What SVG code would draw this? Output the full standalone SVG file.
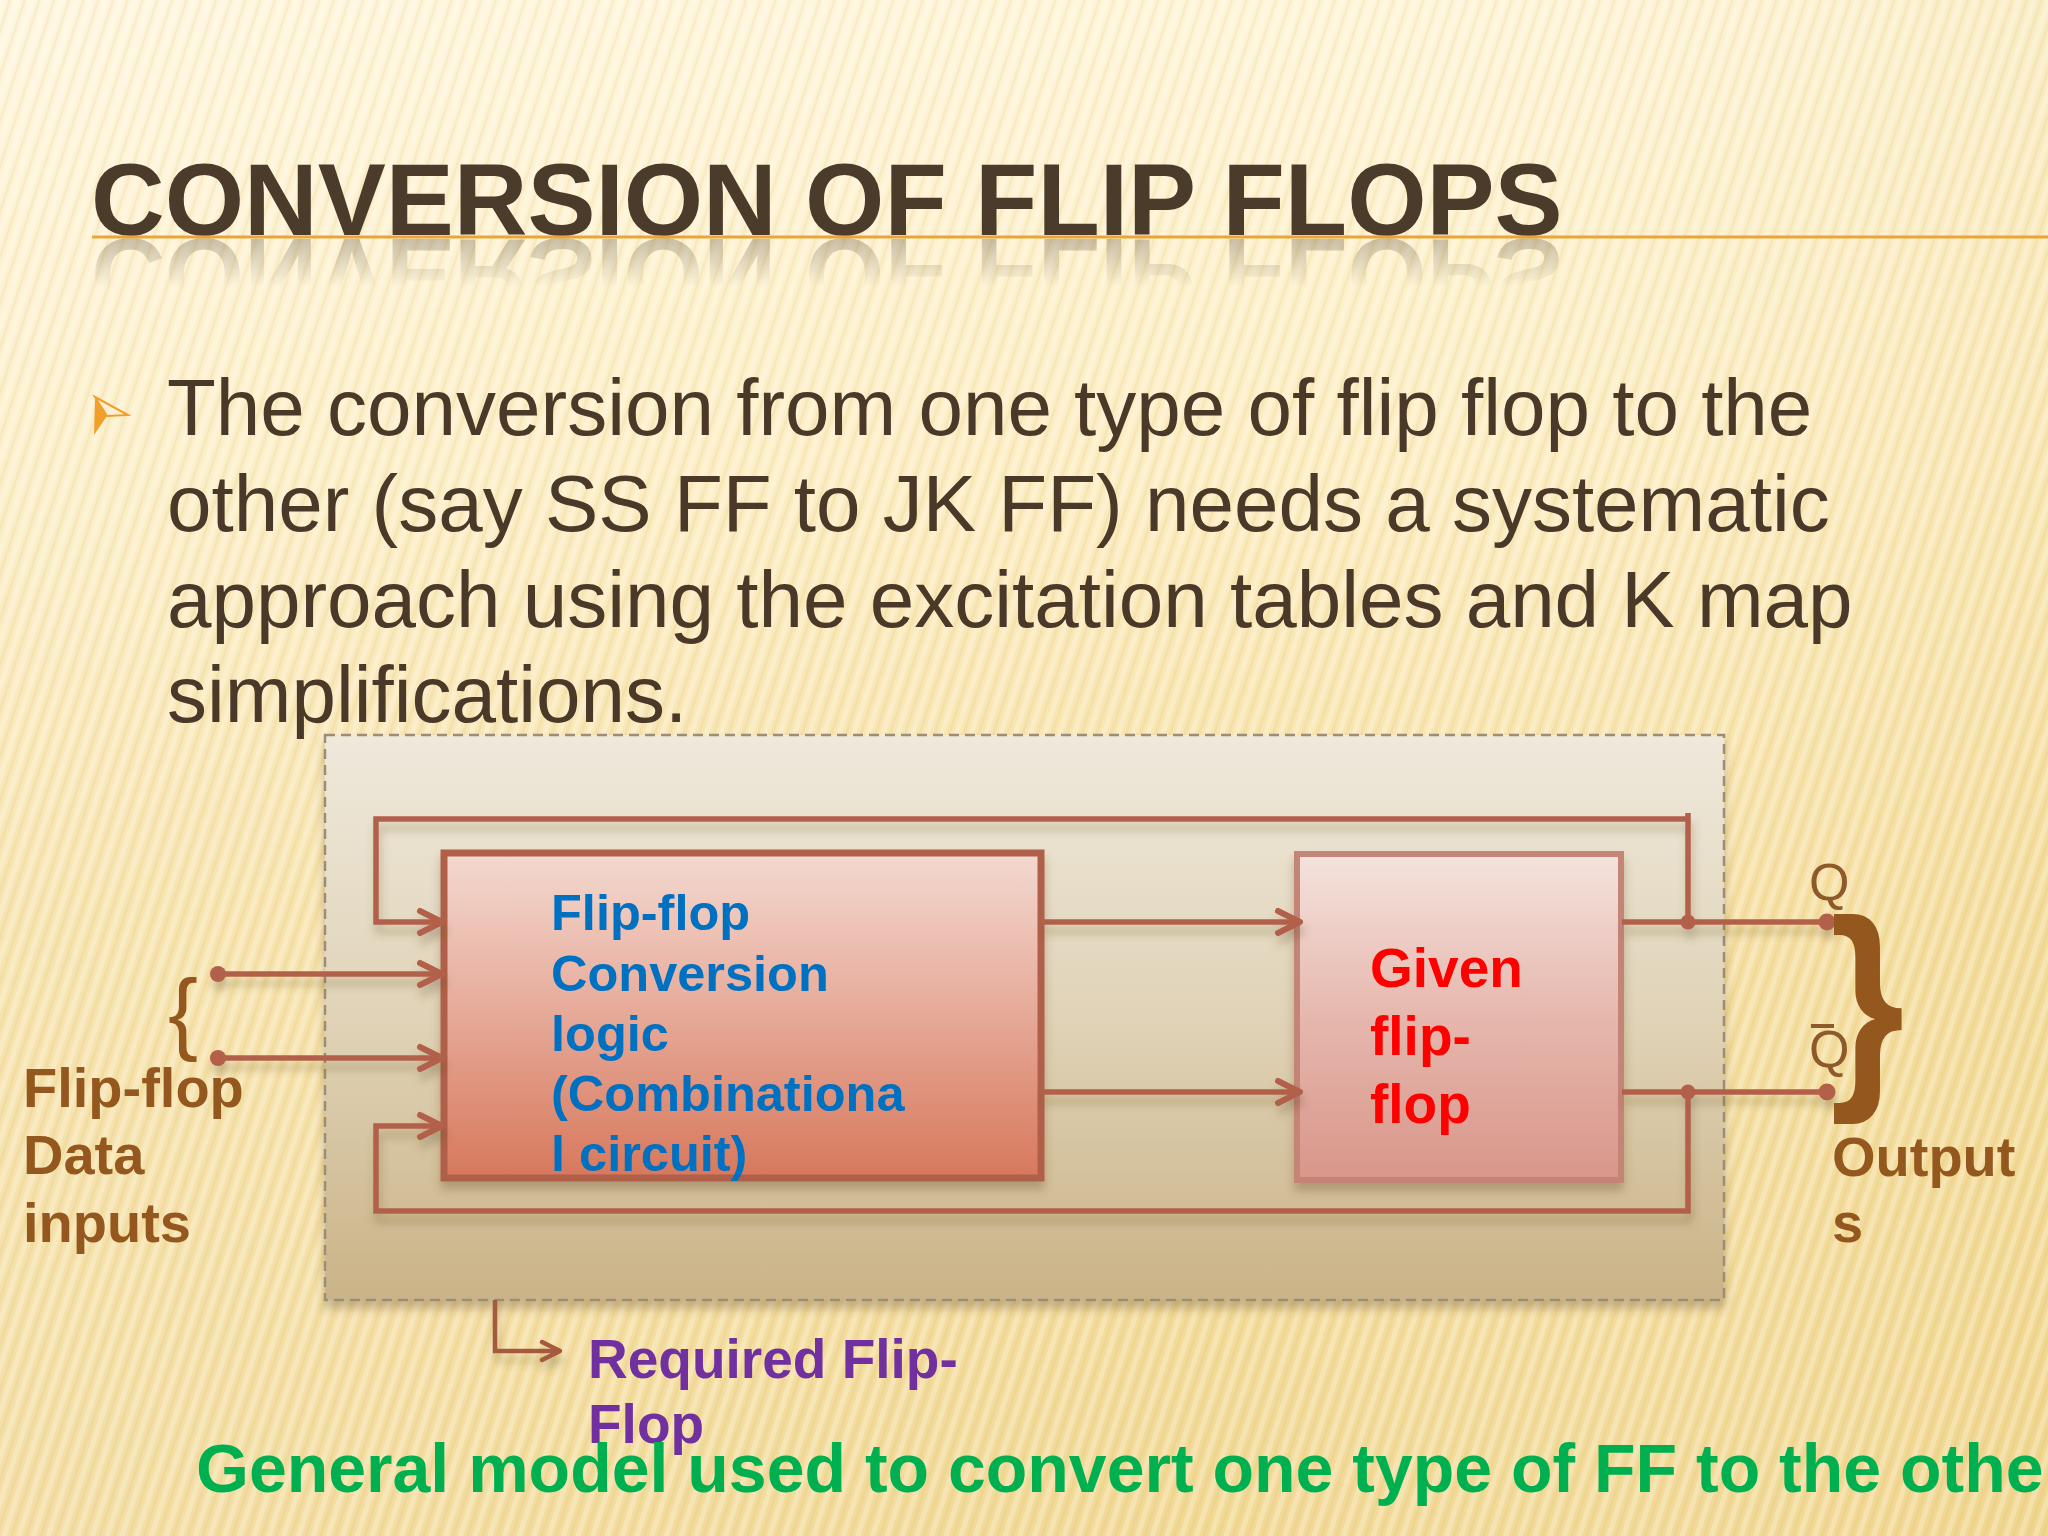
<svg xmlns="http://www.w3.org/2000/svg" width="2048" height="1536" viewBox="0 0 2048 1536">
  <defs>
    <linearGradient id="bg" x1="0" y1="0" x2="0" y2="1">
      <stop offset="0" stop-color="#fef5d8"/>
      <stop offset="0.3" stop-color="#fcedc2"/>
      <stop offset="0.6" stop-color="#f6e0a4"/>
      <stop offset="1" stop-color="#f2d996"/>
    </linearGradient>
    <linearGradient id="bgSide" x1="0" y1="0" x2="1" y2="0">
      <stop offset="0" stop-color="#ffffff" stop-opacity="0.15"/>
      <stop offset="0.6" stop-color="#ffffff" stop-opacity="0"/>
      <stop offset="1" stop-color="#e8c870" stop-opacity="0.18"/>
    </linearGradient>
    <pattern id="stripes" width="14" height="14" patternUnits="userSpaceOnUse" patternTransform="rotate(18)">
      <rect width="5" height="14" fill="#ffffff" opacity="0.25"/>
      <rect x="8" width="3" height="14" fill="#c9a550" opacity="0.1"/>
    </pattern>
    <linearGradient id="frameFill" x1="0" y1="0" x2="0" y2="1">
      <stop offset="0" stop-color="#efe9dc"/>
      <stop offset="0.5" stop-color="#e0d3b7"/>
      <stop offset="1" stop-color="#cab387"/>
    </linearGradient>
    <linearGradient id="logicFill" x1="0" y1="0" x2="0" y2="1">
      <stop offset="0" stop-color="#f3d9d0"/>
      <stop offset="0.5" stop-color="#e6a998"/>
      <stop offset="1" stop-color="#d7785c"/>
    </linearGradient>
    <linearGradient id="ffFill" x1="0" y1="0" x2="0" y2="1">
      <stop offset="0" stop-color="#f4e3dd"/>
      <stop offset="0.5" stop-color="#e6b7ad"/>
      <stop offset="1" stop-color="#d9968a"/>
    </linearGradient>
    <linearGradient id="reflFade" x1="0" y1="0" x2="0" y2="1">
      <stop offset="0" stop-color="#ffffff" stop-opacity="0.3"/>
      <stop offset="1" stop-color="#ffffff" stop-opacity="0"/>
    </linearGradient>
    <mask id="reflMask" maskUnits="userSpaceOnUse" x="0" y="237" width="2048" height="70">
      <rect x="0" y="237" width="2048" height="50" fill="url(#reflFade)"/>
    </mask>
    <filter id="shadow" x="-10%" y="-10%" width="120%" height="130%">
      <feDropShadow dx="0" dy="8" stdDeviation="5" flood-color="#5a4020" flood-opacity="0.3"/>
    </filter>
    <filter id="lineShadow" x="-5%" y="-20%" width="110%" height="140%">
      <feDropShadow dx="2" dy="9" stdDeviation="4" flood-color="#5a4020" flood-opacity="0.28"/>
    </filter>
    <marker id="arrow" markerUnits="userSpaceOnUse" markerWidth="34" markerHeight="34" viewBox="-28 -16 34 32" refX="0" refY="0" orient="auto">
      <path d="M-22,-11 L0,0 L-22,11" fill="none" stroke="#b3604b" stroke-width="6" stroke-linecap="round" stroke-linejoin="round"/>
    </marker>
    <marker id="arrowBrown" markerUnits="userSpaceOnUse" markerWidth="30" markerHeight="30" viewBox="-24 -14 30 28" refX="0" refY="0" orient="auto">
      <path d="M-18,-9 L0,0 L-18,9" fill="none" stroke="#a55a3c" stroke-width="4.5" stroke-linecap="round" stroke-linejoin="round"/>
    </marker>
    <style>
      .title { font-family: "Liberation Sans", Arial, sans-serif; font-weight: bold; font-size: 102px; fill: #4b3b2b; }
      .body { font-family: "Liberation Sans", Arial, sans-serif; font-size: 80px; fill: #4a3828; }
      .lbl { font-family: "Liberation Sans", Arial, sans-serif; font-weight: bold; }
      .blue { fill: #0070c0; font-size: 50.5px; }
      .red { fill: #ff0000; font-size: 55px; }
      .brown { fill: #94581e; font-size: 56px; }
      .purple { fill: #7030a0; font-size: 55px; }
      .green { fill: #00b050; font-size: 68px; }
      .q { font-family: "Liberation Sans", Arial, sans-serif; font-size: 52px; fill: #8e5a2a; }
      .wire { fill: none; stroke: #b3604b; stroke-width: 5.5; stroke-linejoin: miter; }
      .dot { fill: #b3604b; }
    </style>
  </defs>

  <!-- background -->
  <rect width="2048" height="1536" fill="url(#bg)"/>
  <rect width="2048" height="1536" fill="url(#bgSide)"/>
  <rect width="2048" height="1536" fill="url(#stripes)"/>

  <!-- title -->
  <g id="title">
    <text id="titleText" class="title" x="91" y="235">CONVERSION OF FLIP FLOPS</text>
    <g mask="url(#reflMask)">
      <text class="title" x="91" y="235" transform="translate(0,474) scale(1,-1)">CONVERSION OF FLIP FLOPS</text>
    </g>
    <line x1="92" y1="237" x2="2048" y2="237" stroke="#e9a53a" stroke-width="3"/>
  </g>

  <!-- bullet text -->
  <g id="bullet">
    <polygon points="95,397 128,415 107,416 94,435" fill="#f0a02a"/>
    <polygon points="95,397 128,415 107,416" fill="#fdf0d6" stroke="#f0a02a" stroke-width="2"/>
    <text class="body" x="167" y="435">The conversion from one type of flip flop to the</text>
    <text class="body" x="167" y="531">other (say SS FF to JK FF) needs a systematic</text>
    <text class="body" x="167" y="627">approach using the excitation tables and K map</text>
    <text class="body" x="167" y="722">simplifications.</text>
  </g>

  <!-- required flip-flop frame -->
  <g id="frame">
    <rect x="325" y="735" width="1399" height="565" fill="url(#frameFill)" stroke="#9a8e78" stroke-width="2.5" stroke-dasharray="10 6" filter="url(#shadow)"/>
  </g>

  <!-- conversion logic block -->
  <g id="logic" filter="url(#shadow)">
    <rect x="444" y="853" width="597" height="325" fill="url(#logicFill)" stroke="#b0604a" stroke-width="7"/>
    <text class="lbl blue" x="551" y="930">Flip-flop</text>
    <text class="lbl blue" x="551" y="991">Conversion</text>
    <text class="lbl blue" x="551" y="1051">logic</text>
    <text class="lbl blue" x="551" y="1111">(Combinationa</text>
    <text class="lbl blue" x="551" y="1171">l circuit)</text>
  </g>

  <!-- given flip-flop block -->
  <g id="given" filter="url(#shadow)">
    <rect x="1297" y="854" width="324" height="326" fill="url(#ffFill)" stroke="#c48476" stroke-width="6"/>
    <text class="lbl red" x="1370" y="987">Given</text>
    <text class="lbl red" x="1370" y="1055">flip-</text>
    <text class="lbl red" x="1370" y="1123">flop</text>
  </g>

  <!-- connectors -->
  <g id="connectors" filter="url(#lineShadow)">
    <path class="wire" d="M1688,922 V813"/>
    <path class="wire" d="M1690,819 H376 V922 H442" marker-end="url(#arrow)"/>
    <path class="wire" d="M1688,1092 V1211 H376 V1126 H442" marker-end="url(#arrow)"/>
    <path class="wire" d="M218,974 H442" marker-end="url(#arrow)"/>
    <path class="wire" d="M218,1058 H442" marker-end="url(#arrow)"/>
    <path class="wire" d="M1042,922 H1300" marker-end="url(#arrow)"/>
    <path class="wire" d="M1042,1092 H1300" marker-end="url(#arrow)"/>
    <path class="wire" d="M1622,922 H1826"/>
    <path class="wire" d="M1622,1092 H1826"/>
    <circle class="dot" cx="218" cy="974" r="8"/>
    <circle class="dot" cx="218" cy="1058" r="8"/>
    <circle class="dot" cx="1688" cy="922" r="7.5"/>
    <circle class="dot" cx="1688" cy="1092" r="7.5"/>
    <circle class="dot" cx="1827" cy="922" r="8.5"/>
    <circle class="dot" cx="1827" cy="1092" r="8.5"/>
    <path d="M495,1300 V1351 H560" fill="none" stroke="#a55a3c" stroke-width="4.5" marker-end="url(#arrowBrown)"/>
  </g>

  <!-- input labels -->
  <g id="inputs">
    <text x="168" y="1043" font-family="Liberation Sans, Arial, sans-serif" font-size="90" fill="#94581e">{</text>
    <text class="lbl brown" x="23" y="1107">Flip-flop</text>
    <text class="lbl brown" x="23" y="1174">Data</text>
    <text class="lbl brown" x="23" y="1242">inputs</text>
  </g>

  <!-- output labels -->
  <g id="outputs">
    <text class="q" x="1809" y="900">Q</text>
    <text class="q" x="1809" y="1067">Q</text>
    <line x1="1811" y1="1026" x2="1834" y2="1026" stroke="#8e5a2a" stroke-width="4"/>
    <text class="lbl" x="1830" y="1077" font-size="225" fill="#94581e" transform="translate(1830,0) scale(0.85,1) translate(-1830,0)">}</text>
    <text class="lbl brown" x="1832" y="1176">Output</text>
    <text class="lbl brown" x="1832" y="1242">s</text>
  </g>

  <!-- caption -->
  <g id="required">
    <text class="lbl purple" x="588" y="1378">Required Flip-</text>
    <text class="lbl purple" x="588" y="1443">Flop</text>
  </g>
  <text class="lbl green" x="196" y="1492">General model used to convert one type of FF to the othe</text>
</svg>
